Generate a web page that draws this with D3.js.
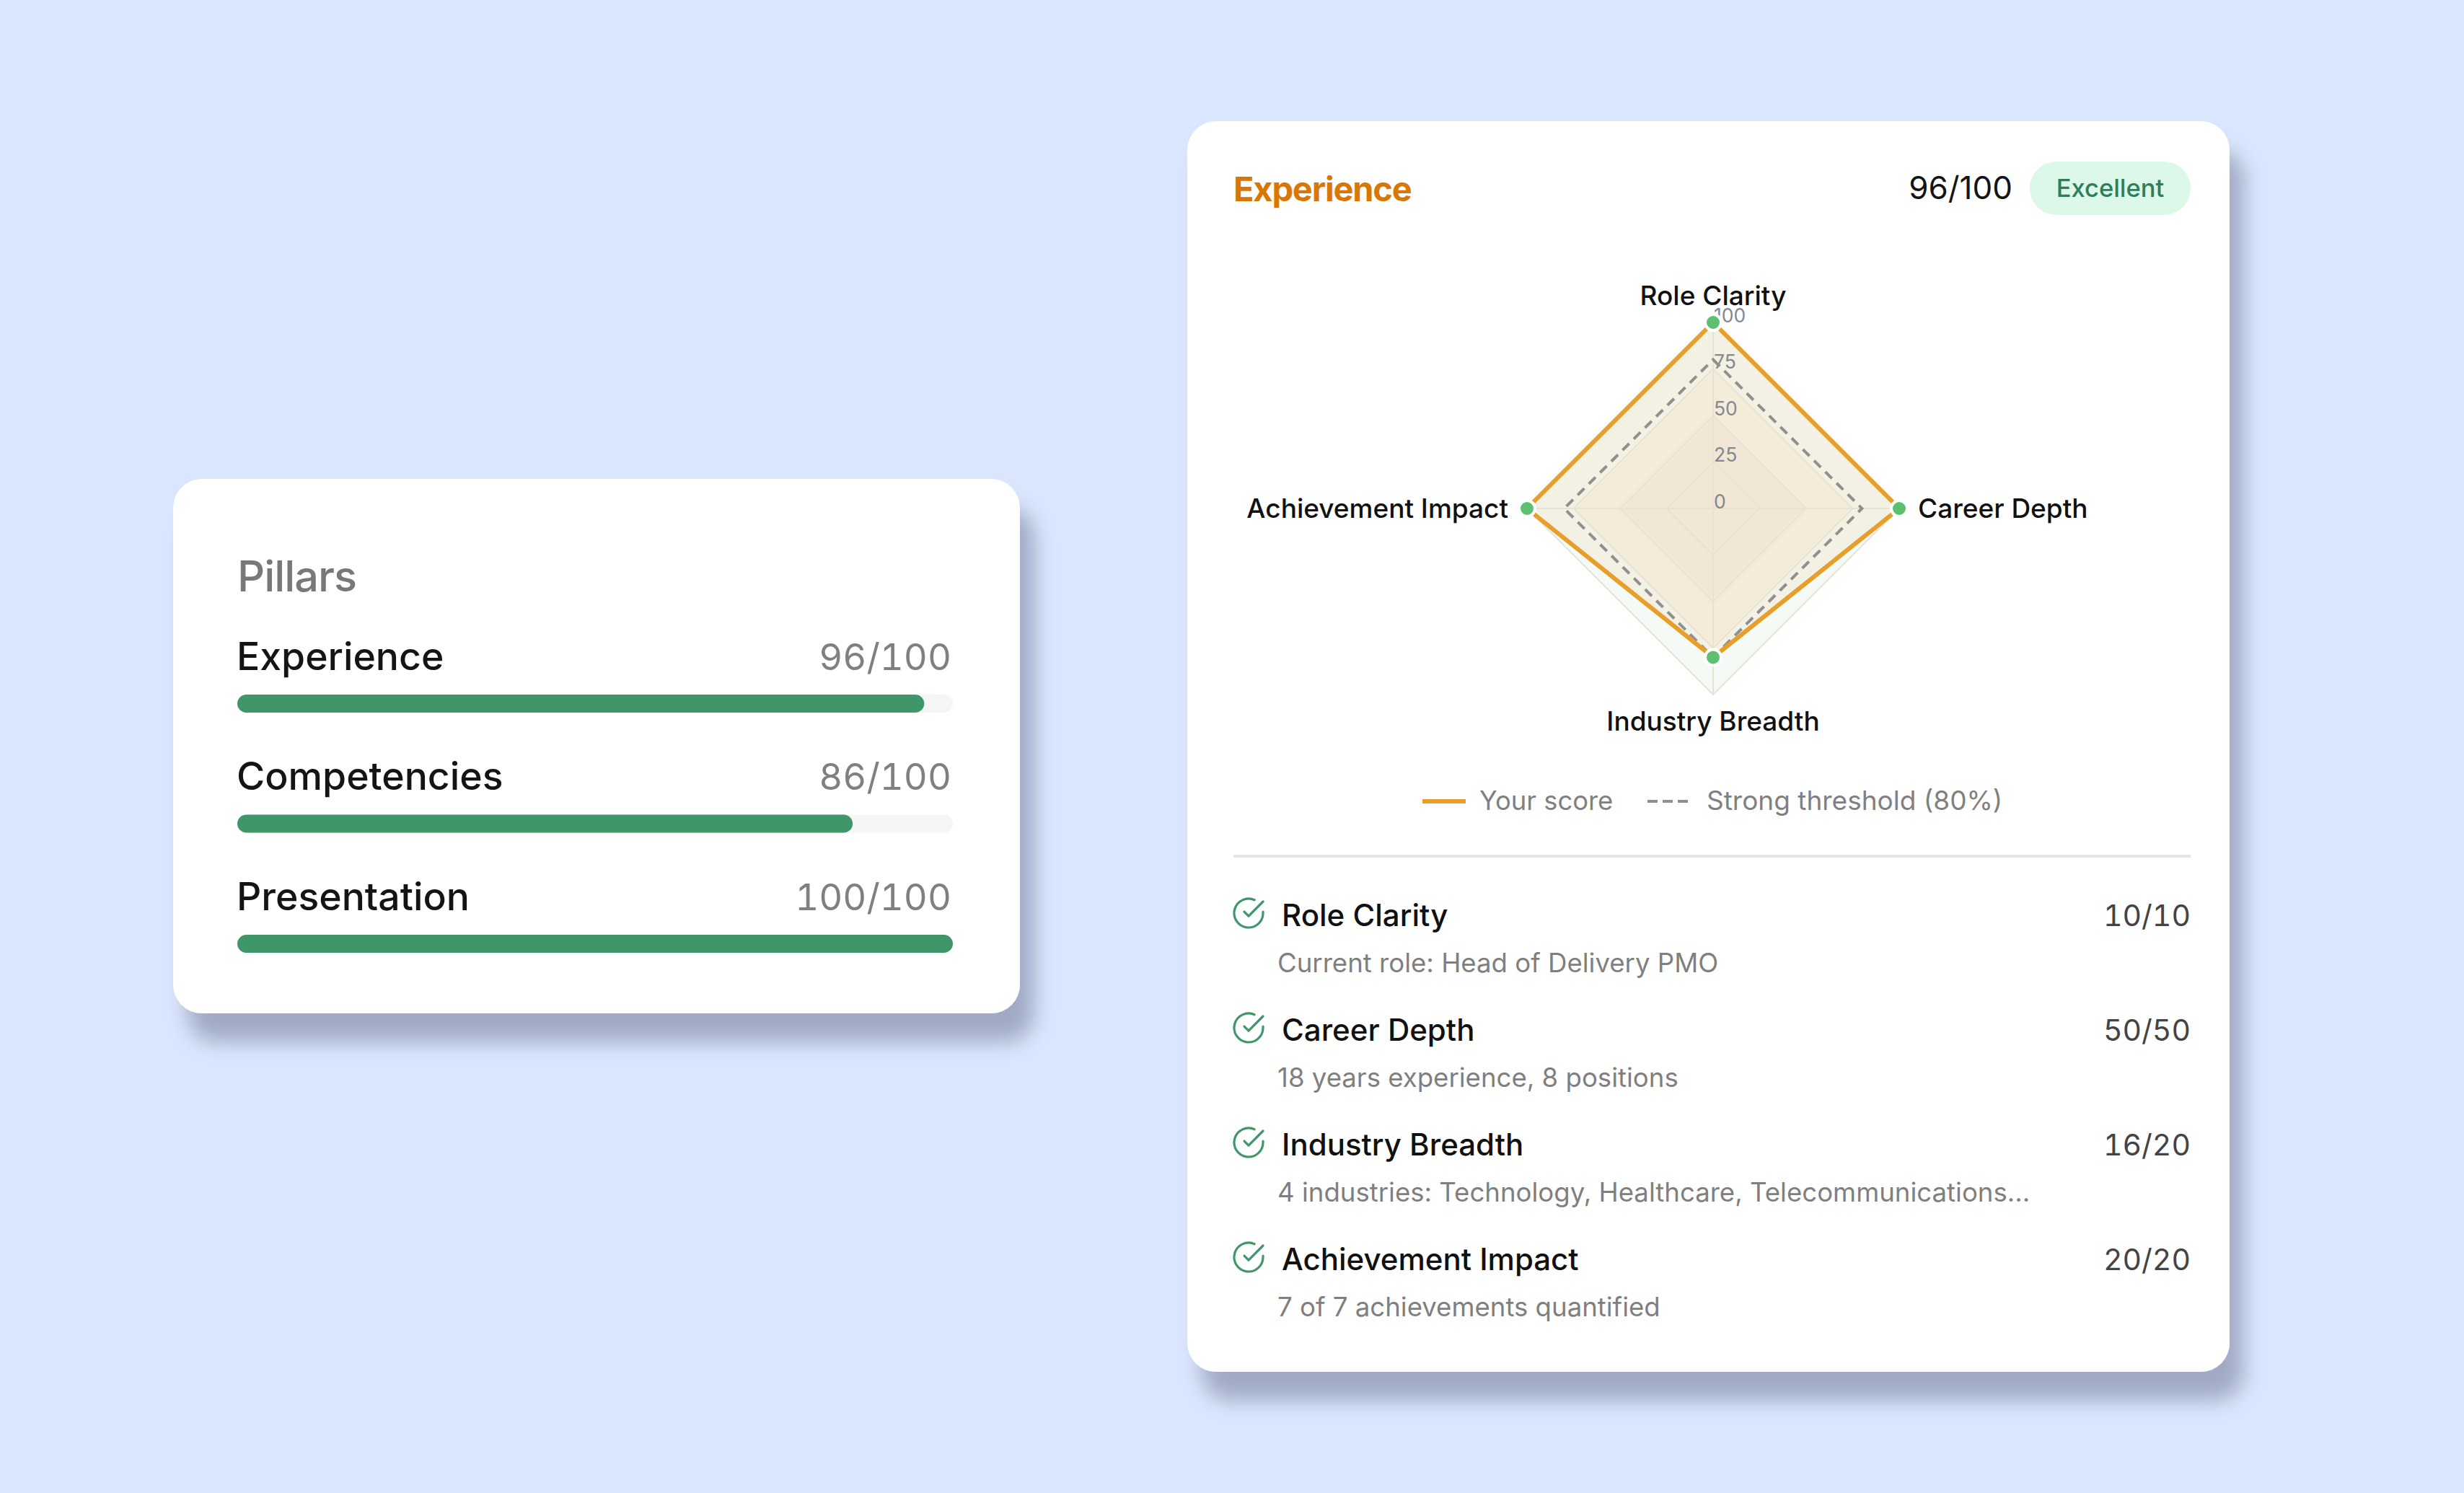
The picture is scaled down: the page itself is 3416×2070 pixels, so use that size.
<!DOCTYPE html>
<html><head><meta charset="utf-8">
<script src="https://cdn.jsdelivr.net/npm/d3@7"></script>
<style>html,body{margin:0;padding:0;background:#d9e6fe}svg{display:block}text{font-family:Inter,"Noto Sans",sans-serif}.num{font-variant-numeric:tabular-nums}</style>
</head><body><svg id="c" width="3416" height="2070"></svg>
<script>
const pillarNames = ["Experience","Competencies","Presentation"];
const pillarScores = [96,86,100];
const pillarLabels = ["96/100","86/100","100/100"];
const axes = ["Role Clarity","Career Depth","Industry Breadth","Achievement Impact"];
const scoreValues = [100,100,80,100];
const thresholdValues = [80,80,80,80];
const gridTicks = [100,75,50,25,0];
const legendLabels = ["Your score","Strong threshold (80%)"];
const itemNames = ["Role Clarity","Career Depth","Industry Breadth","Achievement Impact"];
const itemScores = ["10/10","50/50","16/20","20/20"];
const itemNotes = ["Current role: Head of Delivery PMO","18 years experience, 8 positions","4 industries: Technology, Healthcare, Telecommunications...","7 of 7 achievements quantified"];

const svg = d3.select("#c");
const defs = svg.append("defs");
const f = defs.append("filter").attr("id","sh").attr("x","-10%").attr("y","-10%").attr("width","125%").attr("height","125%");
f.append("feDropShadow").attr("dx",20).attr("dy",40).attr("stdDeviation",14).attr("flood-color","#000820").attr("flood-opacity",0.26);

svg.append("rect").attr("width",3416).attr("height",2070).attr("fill","#d9e6fe");
svg.append("rect").attr("x",240).attr("y",664).attr("width",1174).attr("height",741).attr("rx",40).attr("fill","#fff").attr("filter","url(#sh)");
svg.append("rect").attr("x",1646).attr("y",168).attr("width",1445).attr("height",1734).attr("rx",40).attr("fill","#fff").attr("filter","url(#sh)");

function T(g,x,y,s,size,fill,weight,anchor,ls){
  return g.append("text").attr("x",x).attr("y",y).text(s).attr("font-size",size).attr("fill",fill)
   .attr("font-weight",weight||400).attr("text-anchor",anchor||"start").attr("letter-spacing",ls||0);
}

// Left card
const L = svg.append("g");
T(L,329,820,"Pillars",59.5,"#787878",500,"start",-1);
const bx = d3.scaleLinear().domain([0,100]).range([329,1321]);
const by = d3.scalePoint().domain(pillarNames).range([963,1296]);
pillarNames.forEach((n,i)=>{
  const y=by(n);
  L.append("rect").attr("x",bx(0)).attr("y",y).attr("width",bx(100)-bx(0)).attr("height",25).attr("rx",12.5).attr("fill","#f5f5f5");
  L.append("rect").attr("x",bx(0)).attr("y",y).attr("width",bx(pillarScores[i])-bx(0)).attr("height",25).attr("rx",12.5).attr("fill","#3f9668");
  T(L,328,y-34.5,n,53.5,"#141414",500);
  T(L,1319,y-34.5,pillarLabels[i],51,"#808080",400,"end").classed("num",true);
});

// Right header
const R = svg.append("g");
T(R,1710,279,"Experience",47,"#d97706",700,"start",-1.2);
T(R,2790,276,"96/100",44,"#141414",400,"end");
R.append("rect").attr("x",2814).attr("y",224).attr("width",223).attr("height",74).attr("rx",37).attr("fill","#dcf8e8");
T(R,2925.5,273,"Excellent",34.5,"#2f7d5b",500,"middle");

// Radar
const cx=2375, cy=705;
const G = R.append("g").attr("transform",`translate(${cx},${cy})`);
const r = d3.scaleLinear().domain([0,100]).range([0,258]);
const ang = d3.scalePoint().domain(axes).range([0,Math.PI*1.5]);
const radial = d3.lineRadial().angle((d,i)=>ang(axes[i])).radius(d=>r(d)).curve(d3.curveLinearClosed);
const bandFill = {100:"#f5faf6",75:"#f6f5eb",50:"#f3eee6",25:"#f3eee6"};
gridTicks.filter(t=>t>0).forEach(t=>{
  G.append("path").attr("d",radial(axes.map(()=>t))).attr("fill",bandFill[t]);
});
G.append("path").attr("d",radial(scoreValues)).attr("fill","#e89e2b").attr("fill-opacity",0.09);
gridTicks.filter(t=>t>0).forEach(t=>{
  G.append("path").attr("d",radial(axes.map(()=>t))).attr("fill","none").attr("stroke","#e8e2d4").attr("stroke-width",2);
});
axes.forEach(a=>{
  const p=d3.pointRadial(ang(a),r(100));
  G.append("line").attr("x2",p[0]).attr("y2",p[1]).attr("stroke","#e8e2d4").attr("stroke-width",2);
});
gridTicks.forEach(t=>{
  T(G,1,-r(t)-0.5,String(t),26.5,"#858890",400);
});
G.append("path").attr("d",radial(thresholdValues)).attr("fill","none").attr("stroke","#8f8f8f").attr("stroke-width",4).attr("stroke-dasharray","13 9");
G.append("path").attr("d",radial(scoreValues)).attr("fill","none").attr("stroke","#e89e2b").attr("stroke-width",6);
axes.forEach((a,i)=>{
  const p=d3.pointRadial(ang(a),r(scoreValues[i]));
  G.append("circle").attr("cx",p[0]).attr("cy",p[1]).attr("r",11).attr("fill","#5cc06f").attr("stroke","#fff").attr("stroke-width",4);
});
T(R,cx,423,axes[0],37,"#111",500,"middle");
T(R,2659,718,axes[1],37,"#111",500,"start");
T(R,cx,1013,axes[2],37,"#111",500,"middle");
T(R,2091,718,axes[3],37,"#111",500,"end");

// Legend
R.append("line").attr("x1",1972).attr("x2",2032).attr("y1",1111).attr("y2",1111).attr("stroke","#e89e2b").attr("stroke-width",6);
T(R,2051,1123,legendLabels[0],36.4,"#808080",400);
R.append("line").attr("x1",2284).attr("x2",2340).attr("y1",1111).attr("y2",1111).attr("stroke","#8f8f8f").attr("stroke-width",4).attr("stroke-dasharray","14 7");
T(R,2366,1123,legendLabels[1],37,"#808080",400);

// Divider
R.append("rect").attr("x",1710).attr("y",1185).attr("width",1327).attr("height",4).attr("fill","#e6e6e6");

// Items
const iy = d3.scalePoint().domain(itemNames).range([1284,1761]);
itemNames.forEach((n,i)=>{
  const y=iy(n);
  const ic=R.append("g").attr("transform",`translate(1707,${y-42}) scale(2)`).attr("fill","none").attr("stroke","#3f9668").attr("stroke-width",1.6).attr("stroke-linecap","round").attr("stroke-linejoin","round");
  ic.append("path").attr("d","M22 11.08V12a10 10 0 1 1-5.93-9.14");
  ic.append("path").attr("d","M22 4 12 14.01l-3-3");
  T(R,1777,y,n,42,"#111",500);
  T(R,3037,y,itemScores[i],41,"#444",400,"end").classed("num",true);
  T(R,1771,y+64,itemNotes[i],36.6,"#7f7f7f",400);
});
</script></body></html>
